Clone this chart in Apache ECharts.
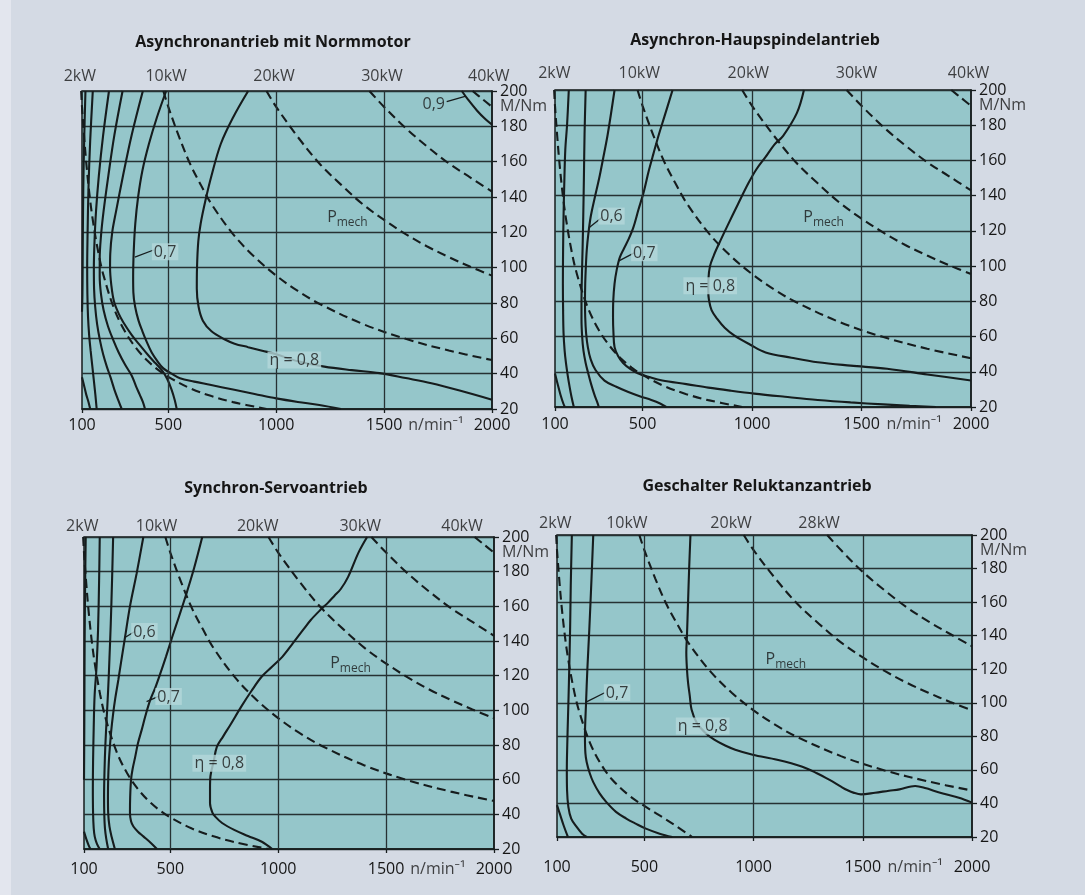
<!DOCTYPE html>
<html><head><meta charset="utf-8">
<script src="https://cdn.jsdelivr.net/npm/echarts@6/dist/echarts.min.js"></script>
<style>
html,body{margin:0;padding:0;background:#d4dae4;}
#strip{position:absolute;left:0;top:0;width:11px;height:895px;background:#e3e6ee;}
#c{position:absolute;left:0;top:0;width:1085px;height:895px;}
</style></head><body><div id="strip"></div><div id="c"></div>
<script>
// ---------- axes / labels ----------
const titles = ['Asynchronantrieb mit Normmotor','Asynchron-Haupspindelantrieb','Synchron-Servoantrieb','Geschalter Reluktanzantrieb'];
const speedTicks = [100, 500, 1000, 1500, 2000];
const speedGridLines = [500, 1000, 1500];
const speedUnit = 'n/min\u207B\u00B9';
const torqueUnit = 'M/Nm';
const powerNames4 = ['2kW','10kW','20kW','30kW','40kW'];
const powerNamesRel = ['2kW','10kW','20kW','28kW'];
const powerLabelSpeedNorm = [90, 490, 990, 1490, 1985];
const powerLabelSpeedSpindle = [97, 485, 983, 1477, 1989];
const powerLabelSpeedServo = [92, 436, 905, 1380, 1852];
const powerLabelSpeedRel = [92, 420, 897, 1300];

// ---------- constant power lines (dashed) ----------
const power2kW = [[96,200],[100,191],[110,174],[120,159],[135,141],[150,127],[175,109],[200,95.5],[250,76.4],[300,63.7],[350,54.6],[400,47.7],[450,42.4],[500,38.2],[600,31.8],[700,27.3],[800,23.9],[955,20]];
const power2kWRel = [[96,200],[100,191],[110,174],[120,159],[135,141],[150,127],[175,109],[200,95.5],[250,76.4],[300,63.7],[350,54.6],[432,44.5],[500,38.5],[568,33],[640,27],[719,20]];
const power10kW = [[477,200],[500,191],[550,174],[600,159],[650,147],[700,136],[800,119],[900,106],[1000,95.5],[1100,86.8],[1200,79.6],[1400,68.2],[1600,59.7],[1800,53.1],[2000,47.7]];
const power20kW = [[955,200],[1000,191],[1100,174],[1200,159],[1300,147],[1400,136],[1500,127],[1600,119],[1700,112],[1800,106],[1900,100.5],[2000,95.5]];
const power28kW = [[1337,200],[1400,191],[1500,178],[1600,167],[1700,157],[1800,148.5],[1900,141],[2000,133.7]];
const power30kW = [[1432,200],[1500,191],[1600,179],[1700,168.5],[1800,159],[1900,151],[2000,143]];
const power40kW = [[1910,200],[1955,195.5],[2000,191]];

// ---------- panel 1: Asynchronantrieb mit Normmotor ----------
const normEta09 = [[1860,200],[1890,195],[1930,189],[1970,184],[2000,181]];
const normEta08 = [[870,200],[800,185],[743,170],[700,152],[672,138],[650,125],[639,115],[633,100],[632,88],[640,78],[660,70],[700,64],[760,59.5],[807,57],[870,55],[935,53],[1000,51],[1100,47],[1223,44],[1350,42],[1479,40.3],[1600,37.5],[1719,34.6],[1850,30.5],[2000,25.3]];
const normEta07 = [[490,200],[447,185],[410,170],[380,155],[360,140],[347,125],[340,110],[337,95],[338,86],[346,78],[362,70],[380,64],[400,58],[423,52],[450,47],[477,43],[515,40],[554,37.4],[620,35.5],[693,33.7],[800,31],[900,28.5],[1000,26],[1100,24],[1200,22.3],[1300,20]];
const normC3 = [[382,200],[330,175],[290,152],[258,132],[240,120],[231,108],[230,100],[236,90],[248,81],[270,74],[292,69],[330,62],[369,56],[410,50],[440,46],[470,42],[495,37],[515,31],[530,25],[539,20]];
const normC2 = [[288,200],[250,175],[222,152],[200,132],[188,118],[182,105],[182,95],[188,85],[200,76],[220,67],[245,59],[270,52],[300,45],[330,39],[350,33],[368,28],[382,24],[392,20]];
const normC1 = [[225,200],[198,175],[178,152],[165,132],[158,115],[155,100],[156,88],[161,78],[170,68],[183,59],[198,51],[215,44],[232,38],[250,31],[268,25],[284,20]];
const normC0 = [[150,200],[138,172],[130,145],[126,120],[124,100],[125,85],[128,72],[133,62],[140,53],[148,44],[155,36],[162,28],[168,20]];
const normEdge = [[116,200],[110,172],[106,145],[104,120],[103,100],[102,85],[100,75]];
const normCorner = [[100,38],[110,33],[120,28],[130,24],[138,20]];
const normNotes = [['0,9',1730,192.5],['0,7',485,109],['Pmech',1330,128.6],['\u03B7 = 0,8',1084,47.7]];
const normLeader09 = [[1790,194],[1875,197]];
const normLeader07 = [[345,106],[432,110]];

// ---------- panel 2: Asynchron-Haupspindelantrieb ----------
const spindleEta08 = [[1237,200],[1205,187],[1142,174],[1102,169],[1062,162],[1020,155],[983,147],[935,135],[888,123],[850,113],[825,106],[808,100],[801,93],[800,86],[803,81],[815,75],[841,70],[875,65],[920,60.5],[990,55.5],[1062,51],[1180,48],[1300,45.4],[1450,43.5],[1617,41.7],[1800,38.5],[2000,35]];
const spindleEta07 = [[637,200],[600,185],[575,175],[550,164],[528,154],[505,142],[481,132],[458,122],[435,115],[415,110],[396,105],[382,98],[372,90],[366,80],[365,71],[367,62],[372,54],[388,49],[411,45],[445,41.5],[481,39],[530,37],[590,35],[700,33],[800,31],[900,29.3],[1010,27.6],[1150,25.8],[1300,24],[1450,22.6],[1600,21.5],[1720,20.7],[1840,20]];
const spindleEta06 = [[372,200],[341,175],[318,160],[302,150],[280,138],[263,128],[252,118],[245,109],[241,100],[238,90],[237,80],[238,71],[242,62],[250,54],[263,47],[285,41],[326,35],[380,31.5],[435,28.5],[490,26],[540,24],[580,22],[608,20]];
const spindleC2 = [[240,200],[235,175],[232,150],[229,128],[226,110],[223,95],[221,80],[221,70],[224,60],[230,52],[240,45],[252,39],[265,33],[280,27],[292,23],[300,20]];
const spindleC1 = [[163,200],[155,180],[147,166],[142,145],[139,128],[137,110],[136,90],[137,75],[139,62],[144,52],[150,45],[158,38],[166,32],[175,26],[186,20]];
const spindleCorner = [[100,39],[112,33],[125,27],[138,22],[145,20]];
const spindleNotes = [['0,6',358,128.4],['0,7',508,107.6],['Pmech',1327,127.4],['\u03B7 = 0,8',809,88.8]];
const spindleLeader06 = [[258,122],[318,128]];
const spindleLeader07 = [[392,103],[462,107.5]];

// ---------- panel 3: Synchron-Servoantrieb ----------
const servoEta08 = [[1412,200],[1372,191],[1324,177],[1290,170],[1260,166],[1230,162],[1196,158],[1150,152],[1116,146.5],[1070,139],[1020,131],[970,125],[924,119.5],[875,111],[828,102],[780,92],[745,85],[716,79],[700,70],[686,62],[684,55],[684,46.4],[695,41],[708,38.7],[740,35],[796,31],[860,27.5],[924,24.2],[972,20]];
const servoEta07 = [[648,200],[610,182],[570,165.5],[540,154],[508,142],[480,131],[453,121],[430,113],[407,106],[385,97],[368,89],[350,81],[337,73],[325,66],[318,60],[314,50],[313,41],[318,36],[329,33],[350,30],[375,27.3],[410,23.5],[438,20]];
const servoEta06 = [[375,200],[344,179],[313,160],[290,142],[272,128],[259,117.5],[245,107],[235,98],[226,88],[220,79],[215,70],[212,60],[211,50],[212,41],[218,33],[228,27],[243,20]];
const servoC2 = [[235,200],[230,175],[224,150],[218,130],[212,112],[205,95],[199,80],[195,65],[193,50],[194,40],[197,32],[203,26],[212,20]];
const servoC1 = [[173,200],[170,175],[165,146],[158,125],[149,108],[145,90],[142,70],[141,55],[142,41],[145,32],[150,27],[160,23],[173,20]];
const servoEdge = [[108,200],[105,170],[103,140],[102,110],[101,80],[100,60]];
const servoCorner = [[100,30],[110,26],[122,22],[130,20]];
const servoNotes = [['0,6',380,145.5],['0,7',492,108],['Pmech',1335,127],['\u03B7 = 0,8',727,69.5]];
const servoLeader06 = [[290,142],[335,145.5]];
const servoLeader07 = [[390,105],[445,108]];

// ---------- panel 4: Geschalter Reluktanzantrieb ----------
const relEta08 = [[711,200],[705,180],[700,160],[695,140],[692,130],[695,120],[700,112],[708,104],[716,96],[740,88],[780,82],[820,78],[870,74.5],[916,72],[996,69],[1108,66],[1220,62],[1290,58],[1348,54],[1400,50],[1428,48],[1460,46.3],[1492,45.4],[1556,46.4],[1620,47.6],[1668,48.4],[1740,50.4],[1790,49],[1828,47.4],[1880,45.5],[1940,43.4],[2000,40.5]];
const relEta07 = [[266,200],[258,174],[248,144],[239,120],[233,100],[228,80],[230,70],[236,64.6],[250,58],[266,52.7],[295,46],[326,40.8],[370,35],[417,31],[460,28],[507,25],[570,22],[628,20]];
const relC1 = [[168,200],[163,170],[160,144],[156,120],[153,104],[150,90],[147,75],[145,60],[146,48],[152,38],[165,31],[190,26],[215,22],[236,20]];
const relCorner = [[100,39],[115,33],[130,27],[150,20]];
const relNotes = [['0,7',375,106],['Pmech',1148,126],['\u03B7 = 0,8',767,86.2]];
const relLeader07 = [[233,100.4],[318,106]];

// ---------- build ----------
const FONT = "'Open Sans', 'Noto Sans', 'DejaVu Sans', sans-serif";
const INK = '#161c1d';
const GRIDC = '#263133';
const PLOTBG = '#95c6ca';
const BOXBG = '#b4d7d9';
const TXT = '#161616';

const panels = [
  {grid:{left:82, top:91, width:410, height:318}, title:[273,42], labelMargin:8, topDist:7,
   solid:[normEta09,normEta08,normEta07,normC3,normC2,normC1,normC0,normEdge,normCorner],
   dashed:[power2kW,power10kW,power20kW,power30kW,power40kW],
   leaders:[normLeader09,normLeader07], notes:normNotes, powerNames:powerNames4, powerSpeed:powerLabelSpeedNorm},
  {grid:{left:555, top:90, width:416, height:317}, title:[755,40], labelMargin:9, topDist:9,
   solid:[spindleEta08,spindleEta07,spindleEta06,spindleC2,spindleC1,spindleCorner],
   dashed:[power2kW,power10kW,power20kW,power30kW,power40kW],
   leaders:[spindleLeader06,spindleLeader07], notes:spindleNotes, powerNames:powerNames4, powerSpeed:powerLabelSpeedSpindle},
  {grid:{left:84, top:537, width:410, height:312}, title:[276,488], labelMargin:12, topDist:3,
   solid:[servoEta08,servoEta07,servoEta06,servoC2,servoC1,servoEdge,servoCorner],
   dashed:[power2kW,power10kW,power20kW,power30kW,power40kW],
   leaders:[servoLeader06,servoLeader07], notes:servoNotes, powerNames:powerNames4, powerSpeed:powerLabelSpeedServo},
  {grid:{left:557, top:535, width:415, height:302}, title:[757,486], labelMargin:22, topDist:4,
   solid:[relEta08,relEta07,relC1,relCorner],
   dashed:[power2kWRel,power10kW,power20kW,power28kW],
   leaders:[relLeader07], notes:relNotes, powerNames:powerNamesRel, powerSpeed:powerLabelSpeedRel}
];

const grids=[], xAxes=[], yAxes=[], series=[], graphics=[];
panels.forEach((p,i)=>{
  grids.push(Object.assign({show:true, backgroundColor:PLOTBG, borderColor:INK, borderWidth:1.5, containLabel:false}, p.grid));
  xAxes.push({gridIndex:i, type:'value', min:100, max:2000,
    axisLine:{show:true, lineStyle:{color:INK, width:1.5}},
    axisTick:{show:true, customValues:speedTicks, length:4, lineStyle:{color:INK, width:1.3}},
    axisLabel:{show:true, customValues:speedTicks, margin:p.labelMargin, fontSize:16, color:TXT, fontFamily:FONT,
      formatter:(v)=>String(v)},
    splitLine:{show:false}});
  yAxes.push({gridIndex:i, type:'value', position:'right', min:20, max:200, interval:20,
    axisLine:{show:true, lineStyle:{color:INK, width:1.5}},
    axisTick:{show:true, length:5, lineStyle:{color:INK, width:1.3}},
    axisLabel:{margin:8, fontSize:16, color:TXT, fontFamily:FONT, formatter:(v)=>String(v)},
    splitLine:{show:true, lineStyle:{color:GRIDC, width:1.3}}});
  graphics.push({type:'text', x:p.title[0], y:p.title[1], style:{text:titles[i], font:"bold 16px "+FONT, fill:TXT, textAlign:'center', textVerticalAlign:'middle'}});
  // vertical grid lines
  series.push({type:'line', xAxisIndex:i, yAxisIndex:i, data:[], silent:true,
    markLine:{silent:true, symbol:'none', label:{show:false}, animation:false,
      lineStyle:{type:'solid', color:GRIDC, width:1.3}, data:speedGridLines.map(v=>({xAxis:v}))}});
  p.dashed.forEach(d=>series.push({type:'line', xAxisIndex:i, yAxisIndex:i, data:d, showSymbol:false, smooth:0.35, clip:true, silent:true, z:3,
    lineStyle:{color:INK, width:2.1, type:[9,5]}}));
  p.solid.forEach(d=>series.push({type:'line', xAxisIndex:i, yAxisIndex:i, data:d, showSymbol:false, smooth:0.35, clip:true, silent:true, z:4,
    lineStyle:{color:INK, width:2.1}}));
  p.leaders.forEach(d=>series.push({type:'line', xAxisIndex:i, yAxisIndex:i, data:d, showSymbol:false, clip:true, silent:true, z:4,
    lineStyle:{color:INK, width:1.3}}));
  // annotations
  const noteData = p.notes.map(n=>{
    const item = {name:n[0], value:[n[1],n[2]]};
    if(n[0]!=='Pmech' && n[0]!=='0,9'){ item.label = {backgroundColor:BOXBG, padding:[1,2,0,2]}; }
    return item;
  });
  series.push({type:'scatter', xAxisIndex:i, yAxisIndex:i, symbol:'circle', symbolSize:1, silent:true, z:6, clip:false,
    data:noteData, itemStyle:{color:'rgba(0,0,0,0)'},
    label:{show:true, position:'inside', fontFamily:FONT, fontSize:16, color:TXT,
      formatter:(q)=> q.name==='Pmech' ? '{p|P}{s|mech}' : q.name,
      rich:{p:{fontSize:16, color:TXT, fontFamily:FONT}, s:{fontSize:12, color:TXT, fontFamily:FONT, padding:[10,0,0,0]}}}});
  // top power labels
  series.push({type:'scatter', xAxisIndex:i, yAxisIndex:i, symbolSize:0, silent:true, clip:false, z:6,
    data:p.powerSpeed.map((s,k)=>({name:p.powerNames[k], value:[s,200]})),
    label:{show:true, position:'top', distance:p.topDist, formatter:'{b}', fontFamily:FONT, fontSize:16, color:TXT}});
  // axis unit labels
  series.push({type:'scatter', xAxisIndex:i, yAxisIndex:i, symbolSize:0, silent:true, clip:false, z:6,
    data:[{name:speedUnit, value:[1740,20], label:{position:'bottom', distance:p.labelMargin}},
          {name:torqueUnit, value:[2000,191], label:{position:'right', distance:8}}],
    label:{show:true, formatter:'{b}', fontFamily:FONT, fontSize:16, color:TXT}});
});

const chart = echarts.init(document.getElementById('c'), null, {renderer:'canvas'});
chart.setOption({animation:false, textStyle:{fontFamily:FONT}, grid:grids, xAxis:xAxes, yAxis:yAxes, series:series, graphic:graphics});
</script></body></html>
